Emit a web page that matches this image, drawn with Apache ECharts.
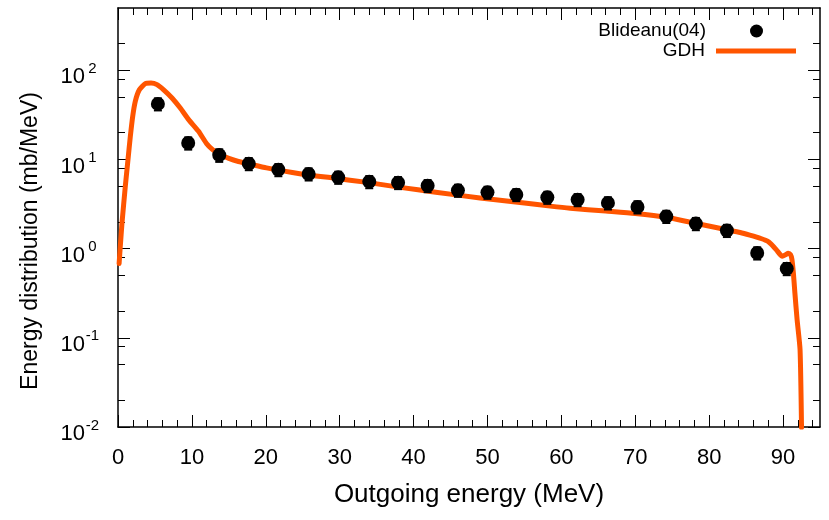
<!DOCTYPE html>
<html>
<head>
<meta charset="utf-8">
<script src="https://cdn.jsdelivr.net/npm/echarts@6/dist/echarts.min.js"></script>
<style>
html,body{margin:0;padding:0;background:#fff;}
#chart{width:829px;height:520px;}
</style>
</head>
<body>
<div id="chart"></div>
<script>
// ---- data ----
const expName = 'Blideanu(04)';
const calcName = 'GDH';
const expEnergy = [5.4, 9.5, 13.7, 17.7, 21.7, 25.8, 29.8, 34.0, 37.9, 41.9, 46.0, 50.0, 53.9, 58.1, 62.2, 66.3, 70.3, 74.2, 78.2, 82.4, 86.5, 90.5];
const expValue  = [42.0, 15.3, 11.2, 8.98, 7.69, 6.88, 6.31, 5.64, 5.5, 5.09, 4.51, 4.28, 4.03, 3.76, 3.54, 3.26, 2.94, 2.30, 1.91, 1.60, 0.895, 0.597];
const expError  = [6.5, 2.4, 1.8, 1.4, 1.2, 1.07, 0.98, 0.88, 0.85, 0.79, 0.70, 0.66, 0.62, 0.58, 0.55, 0.51, 0.46, 0.36, 0.30, 0.25, 0.14, 0.093];
const gdhEnergy = [0.15, 0.31, 0.54, 0.99, 1.35, 1.67, 1.99, 2.34, 2.89, 3.7, 4.47, 5.28, 6.18, 7.31, 8.43, 9.56, 10.9, 12.0, 12.8, 13.7, 15.0, 16.3, 17.9, 20.1, 24.6, 29.1, 33.7, 38.2, 43.0, 49.0, 55.0, 58.5, 61.2, 66.0, 70.0, 74.2, 77.8, 82.4, 84.2, 85.5, 87.0, 88.0, 88.6, 89.1, 89.9, 90.4, 90.7, 91.0, 91.2, 91.4, 91.6, 91.9, 92.3, 92.5];
const gdhValue  = [0.68, 1.06, 1.94, 5.0, 9.96, 18.2, 30.5, 44.9, 60.4, 71.0, 72.2, 69.2, 60.4, 49.0, 37.8, 28.0, 20.7, 15.0, 12.9, 11.5, 10.3, 9.5, 8.85, 8.05, 6.93, 6.2, 5.54, 4.87, 4.3, 3.70, 3.25, 3.0, 2.84, 2.64, 2.48, 2.25, 1.95, 1.63, 1.52, 1.42, 1.30, 1.20, 1.08, 0.97, 0.82, 0.86, 0.89, 0.86, 0.76, 0.53, 0.32, 0.16, 0.074, 0.0098];
const xMajorTicks = [0, 10, 20, 30, 40, 50, 60, 70, 80, 90];
const xMinorTicks = [2, 4, 6, 8, 12, 14, 16, 18, 22, 24, 26, 28, 32, 34, 36, 38, 42, 44, 46, 48, 52, 54, 56, 58, 62, 64, 66, 68, 72, 74, 76, 78, 82, 84, 86, 88, 92, 94];
const yMajorTicks = [0.01, 0.1, 1, 10, 100];
const yTickExponents = ['-2', '-1', '0', '1', '2'];
const yMinorTicks = [0.02, 0.05, 0.08, 0.2, 0.5, 0.8, 2, 5, 8, 20, 50, 80, 200];
const xTitle = 'Outgoing energy (MeV)';
const yTitle = 'Energy distribution (mb/MeV)';

// ---- chart ----
const FONT = "'Liberation Sans', Arial, sans-serif";
const ORANGE = '#ff5500';
const chart = echarts.init(document.getElementById('chart'), null, {renderer: 'canvas'});

function xAxisDef(pos, ticks, len, showLine, showLabel, extra) {
  return Object.assign({
    type: 'value', position: pos, min: 0, max: 95,
    axisLine: {show: showLine, onZero: false, lineStyle: {color: '#000', width: 1.5}},
    axisTick: {show: true, inside: true, length: len, customValues: ticks, lineStyle: {color: '#000', width: 1}},
    axisLabel: {show: showLabel, customValues: ticks, fontSize: 22, color: '#000', fontFamily: FONT, margin: 20},
    splitLine: {show: false}
  }, extra || {});
}
function yAxisDef(pos, ticks, len, showLine, showLabel) {
  return {
    type: 'log', logBase: 10, position: pos, min: 0.01, max: 500,
    axisLine: {show: showLine, onZero: false, lineStyle: {color: '#000', width: 1.5}},
    axisTick: {show: true, inside: true, length: len, customValues: ticks, lineStyle: {color: '#000', width: 1}},
    axisLabel: {
      show: showLabel, customValues: ticks, margin: 18,
      formatter: function (v) {
        const i = yMajorTicks.indexOf(v);
        return i < 0 ? '' : '{b|10}{s|' + yTickExponents[i] + '}';
      },
      rich: {
        b: {fontSize: 22, lineHeight: 22, padding: [14, 0, 0, 0], color: '#000', fontFamily: FONT},
        s: {fontSize: 15, lineHeight: 15, padding: [9, 0, 12, 0], width: 15, align: 'left', color: '#000', fontFamily: FONT}
      }
    },
    splitLine: {show: false}
  };
}

const option = {
  animation: false,
  backgroundColor: '#fff',
  grid: {left: 118, right: 9, top: 8, bottom: 93, containLabel: false},
  xAxis: [
    xAxisDef('bottom', xMajorTicks, 12, true, true, {
      name: xTitle, nameLocation: 'middle', nameGap: 55,
      nameTextStyle: {fontSize: 26, color: '#000', fontFamily: FONT}
    }),
    xAxisDef('bottom', xMinorTicks, 7, false, false),
    xAxisDef('top', xMajorTicks, 12, true, false),
    xAxisDef('top', xMinorTicks, 7, false, false)
  ],
  yAxis: [
    yAxisDef('left', yMajorTicks, 12, true, true),
    yAxisDef('left', yMinorTicks, 7, false, false),
    yAxisDef('right', yMajorTicks, 12, true, false),
    yAxisDef('right', yMinorTicks, 7, false, false)
  ],
  legend: [
    {
      data: [{name: expName, icon: 'circle'}], right: 66, top: 21, padding: 0,
      align: 'right', itemWidth: 13, itemHeight: 13, selectedMode: false,
      textStyle: {fontSize: 19, color: '#000', fontFamily: FONT, lineHeight: 20, padding: [0, 39, 0, 0]}
    },
    {
      data: [{name: calcName, icon: 'rect'}], right: 33, top: 41, padding: 0,
      align: 'right', itemWidth: 80, itemHeight: 5, selectedMode: false,
      textStyle: {fontSize: 19, color: '#000', fontFamily: FONT, lineHeight: 20, padding: [0, 6, 0, 0]}
    }
  ],
  graphic: [
    {
      type: 'text', x: 31, y: 241, rotation: Math.PI / 2,
      style: {text: yTitle, fontSize: 23, fill: '#000', fontFamily: FONT, align: 'center', verticalAlign: 'middle'}
    }
  ],
  series: [
    {
      name: calcName, type: 'line', xAxisIndex: 0, yAxisIndex: 0,
      data: gdhEnergy.map((e, i) => [e, gdhValue[i]]),
      showSymbol: false, symbol: 'none', clip: true, z: 2,
      smooth: 0.2,
      color: ORANGE,
      lineStyle: {color: ORANGE, width: 5, join: 'round', cap: 'round', opacity: 1}
    },
    {
      type: 'custom', xAxisIndex: 0, yAxisIndex: 0, z: 3,
      data: expEnergy.map((e, i) => [e, expValue[i] - expError[i], expValue[i] + expError[i]]),
      renderItem: function (params, api) {
        const lo = api.coord([api.value(0), api.value(1)]);
        const hi = api.coord([api.value(0), api.value(2)]);
        const w = 4;
        const st = {stroke: '#000', lineWidth: 2};
        return {type: 'group', children: [
          {type: 'line', shape: {x1: lo[0], y1: lo[1], x2: hi[0], y2: hi[1]}, style: st},
          {type: 'line', shape: {x1: lo[0] - w, y1: lo[1], x2: lo[0] + w, y2: lo[1]}, style: st},
          {type: 'line', shape: {x1: hi[0] - w, y1: hi[1], x2: hi[0] + w, y2: hi[1]}, style: st}
        ]};
      }
    },
    {
      name: expName, type: 'scatter', xAxisIndex: 0, yAxisIndex: 0, z: 4,
      data: expEnergy.map((e, i) => [e, expValue[i]]),
      symbol: 'circle', symbolSize: 14,
      color: '#000',
      itemStyle: {color: '#000', opacity: 1}
    }
  ]
};
chart.setOption(option);
</script>
</body>
</html>
